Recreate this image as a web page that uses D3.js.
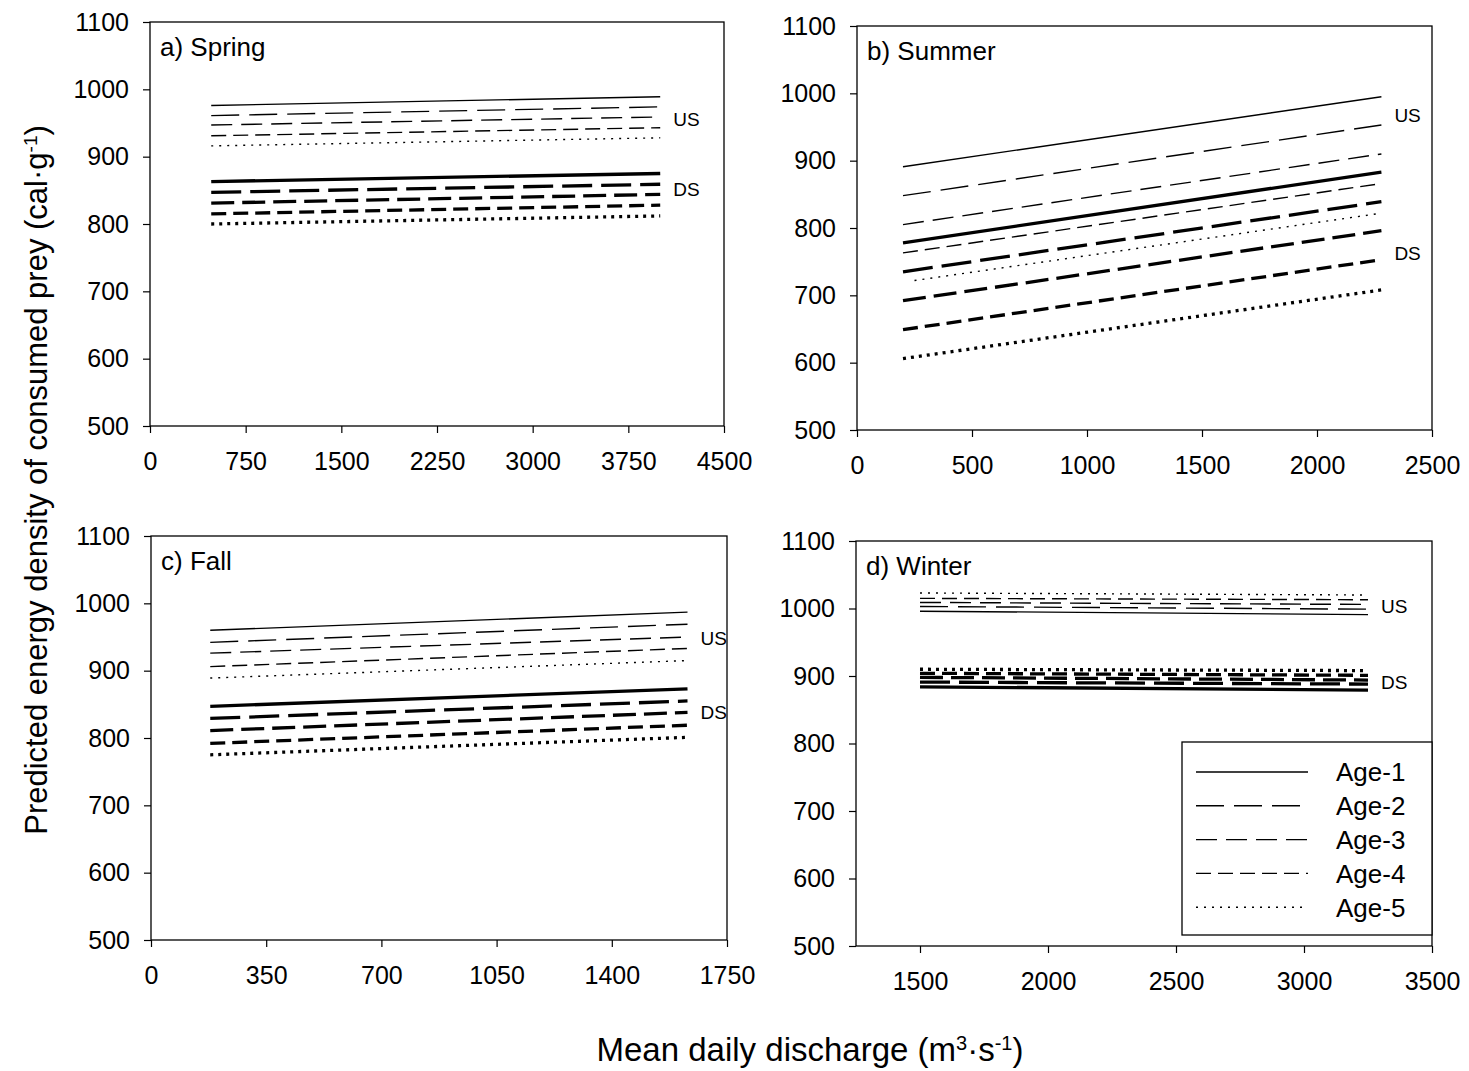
<!DOCTYPE html>
<html>
<head>
<meta charset="utf-8">
<script src="https://cdn.jsdelivr.net/npm/d3@7"></script>
<style>
  body { margin: 0; background: #fff; }
  text { font-family: "Liberation Sans", Arial, sans-serif; fill: #000; }
</style>
</head>
<body>
<svg width="1469" height="1071"></svg>
<script>
// **** Data ****
var ages = ["Age-1", "Age-2", "Age-3", "Age-4", "Age-5"];
var yTicks = [500, 600, 700, 800, 900, 1000, 1100];
var panelNames = ["a) Spring", "b) Summer", "c) Fall", "d) Winter"];

// a) Spring
var springTicks = [0, 750, 1500, 2250, 3000, 3750, 4500];
var springX = [480, 4000];
var springUS = [[976, 989], [961, 974], [947, 959], [931, 943], [916, 928]];
var springDS = [[863, 875], [847, 859], [831, 844], [815, 828], [800, 812]];

// b) Summer (age-5 US line starts a bit later)
var summerTicks = [0, 500, 1000, 1500, 2000, 2500];
var summerX = [200, 2280];
var summerUS5Start = 250;
var summerUS = [[891, 995], [848, 953], [805, 910], [763, 866], [722, 822]];
var summerDS = [[778, 883], [735, 839], [692, 796], [649, 753], [606, 708]];

// c) Fall
var fallTicks = [0, 350, 700, 1050, 1400, 1750];
var fallX = [180, 1630];
var fallUS = [[960, 987], [942, 969], [926, 950], [906, 933], [889, 915]];
var fallDS = [[847, 873], [829, 855], [811, 838], [792, 819], [775, 801]];

// d) Winter
var winterTicks = [1500, 2000, 2500, 3000, 3500];
var winterX = [1500, 3250];
var winterUS = [[996, 991], [1003, 999], [1009, 1006], [1015, 1013], [1023, 1020]];
var winterDS = [[884, 879], [891, 888], [898, 894], [904, 901], [910, 908]];

// where the US / DS tags sit on the y scale
var usTagValue = [956, 967, 948, 1003];
var dsTagValue = [852, 763, 839, 891];

// **** Styles ****
var dashes = [null, "28,10", "21,9", "15,7", "2,6"];
var thickDashes = [null, "30,9", "23,8", "15,7", "3,5"];
var thin = 1.4, thick = 3.3;
var tickFont = "25px";

var svg = d3.select("svg");

var panels = [
    { box: [150, 724, 22, 426], domain: [0, 4500], ticks: springTicks,
      us: springUS, ds: springDS, xr: function() { return springX; } },
    { box: [857, 1432, 26, 430], domain: [0, 2500], ticks: summerTicks,
      us: summerUS, ds: summerDS,
      xr: function(g, i) { return (g === "us" && i === 4) ? [summerUS5Start, summerX[1]] : summerX; } },
    { box: [151, 727, 536, 940], domain: [0, 1750], ticks: fallTicks,
      us: fallUS, ds: fallDS, xr: function() { return fallX; } },
    { box: [856, 1432, 541, 946], domain: [1250, 3500], ticks: winterTicks,
      us: winterUS, ds: winterDS, xr: function() { return winterX; } }
];

panels.forEach(function(p, k) {
    var left = p.box[0], right = p.box[1], top = p.box[2], bottom = p.box[3];
    var x = d3.scaleLinear().domain(p.domain).range([left, right]);
    var y = d3.scaleLinear().domain([500, 1100]).range([bottom, top]);
    var g = svg.append("g");

    var xa = g.append("g").attr("transform", "translate(0," + bottom + ")")
        .call(d3.axisBottom(x).tickValues(p.ticks).tickFormat(d3.format("d"))
            .tickSize(7).tickPadding(19).tickSizeOuter(0));
    var ya = g.append("g").attr("transform", "translate(" + left + ",0)")
        .call(d3.axisLeft(y).tickValues(yTicks).tickFormat(d3.format("d"))
            .tickSize(7).tickPadding(14).tickSizeOuter(0));
    [xa, ya].forEach(function(a) {
        a.select(".domain").remove();
        a.selectAll("line").attr("stroke", "#000").attr("stroke-width", 1.2);
        a.selectAll("text").style("font-size", tickFont).attr("fill", "#000")
            .style("font-family", '"Liberation Sans", Arial, sans-serif');
    });

    g.append("rect")
        .attr("x", left).attr("y", top)
        .attr("width", right - left).attr("height", bottom - top)
        .attr("fill", "none").attr("stroke", "#000").attr("stroke-width", 1.3);

    g.append("text")
        .attr("x", left + 10).attr("y", top + 34)
        .style("font-size", "26px")
        .text(panelNames[k]);

    var line = d3.line().x(function(d) { return x(d[0]); }).y(function(d) { return y(d[1]); });

    ["us", "ds"].forEach(function(grp) {
        p[grp].forEach(function(v, i) {
            var xr = p.xr(grp, i);
            g.append("path")
                .datum([[xr[0], v[0]], [xr[1], v[1]]])
                .attr("d", line)
                .attr("fill", "none")
                .attr("stroke", "#000")
                .attr("stroke-width", grp === "us" ? thin : thick)
                .attr("stroke-dasharray", grp === "us" ? dashes[i] : thickDashes[i]);
        });
    });

    var endX = x(p.xr("ds", 0)[1]) + 13;
    g.append("text").attr("x", endX).attr("y", y(usTagValue[k]))
        .attr("dy", "0.36em").style("font-size", "19px").text("US");
    g.append("text").attr("x", endX).attr("y", y(dsTagValue[k]))
        .attr("dy", "0.36em").style("font-size", "19px").text("DS");
});

// **** Legend (in panel d) ****
var legend = svg.append("g").attr("class", "legend");
legend.append("rect")
    .attr("x", 1182).attr("y", 742).attr("width", 250).attr("height", 193)
    .attr("fill", "#fff").attr("stroke", "#000").attr("stroke-width", 1.3);

var item = legend.selectAll(".item").data(ages).enter()
    .append("g").attr("class", "item")
    .attr("transform", function(d, i) { return "translate(0," + (772 + i * 33.8) + ")"; });
item.append("line")
    .attr("x1", 1196).attr("x2", 1308)
    .attr("stroke", "#000").attr("stroke-width", thin)
    .attr("stroke-dasharray", function(d, i) { return dashes[i]; });
item.append("text")
    .attr("x", 1336).attr("dy", "0.36em")
    .style("font-size", "26px")
    .text(function(d) { return d; });

// **** Axis titles ****
var yTitle = svg.append("text")
    .attr("transform", "translate(47,480) rotate(-90)")
    .attr("text-anchor", "middle")
    .style("font-size", "31px");
yTitle.append("tspan").text("Predicted energy density of consumed prey (cal·g");
yTitle.append("tspan").attr("baseline-shift", "super").style("font-size", "19px").text("-1");
yTitle.append("tspan").text(")");

var xTitle = svg.append("text")
    .attr("x", 810).attr("y", 1061)
    .attr("text-anchor", "middle")
    .style("font-size", "33px");
xTitle.append("tspan").text("Mean daily discharge (m");
xTitle.append("tspan").attr("baseline-shift", "super").style("font-size", "20px").text("3");
xTitle.append("tspan").text("·s");
xTitle.append("tspan").attr("baseline-shift", "super").style("font-size", "20px").text("-1");
xTitle.append("tspan").text(")");
</script>
</body>
</html>
